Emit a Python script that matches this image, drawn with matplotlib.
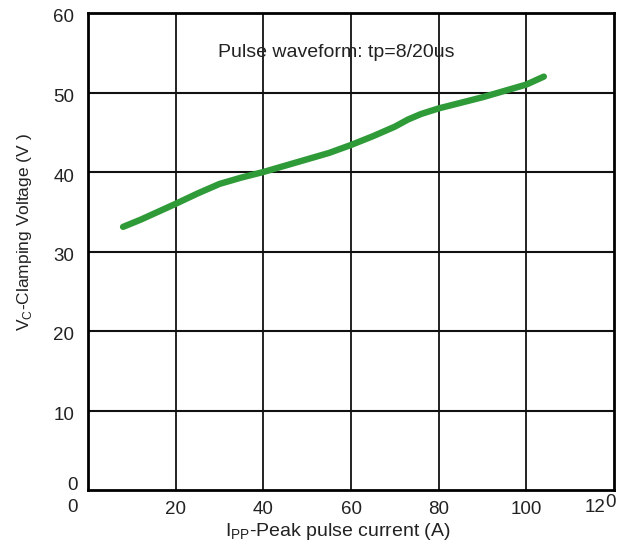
import matplotlib
matplotlib.use("Agg")
import matplotlib.pyplot as plt
from matplotlib.transforms import offset_copy, ScaledTranslation

plt.rcParams['font.family'] = ['Liberation Sans', 'DejaVu Sans']

current_a = [8, 12, 16, 20, 25, 30, 35, 40, 45, 50, 55, 60, 65, 70, 73, 76, 80, 85, 90, 95, 100, 104]
voltage_v = [33.1, 34.0, 35.0, 36.0, 37.3, 38.5, 39.3, 40.0, 40.8, 41.6, 42.4, 43.4, 44.5, 45.7,
             46.6, 47.3, 48.0, 48.7, 49.4, 50.2, 51.0, 52.0]
x_ticks = [20, 40, 60, 80, 100]
y_ticks = [10, 20, 30, 40, 50, 60]

fig = plt.figure(figsize=(6.24, 5.44), dpi=100)
ax = fig.add_axes([88/624, 1 - 490/544, (614-88)/624, (490-13)/544])
ax.set_xlim(0, 120)
ax.set_ylim(0, 60)

for xv in [20, 40, 60, 80, 100]:
    ax.axvline(xv, color='#222222', lw=1.4, zorder=1)
for yv in [10, 20, 30, 40, 50]:
    ax.axhline(yv, color='#111111', lw=1.5, zorder=1)

ax.plot(current_a, voltage_v, color='#2f9a38', lw=4.6, solid_capstyle='round',
        solid_joinstyle='round', zorder=3)

for s in ax.spines.values():
    s.set_linewidth(2.0)
    s.set_color('black')

tc = '#222222'
fs = 13.5
ax.set_xticks(x_ticks)
ax.set_xticklabels([str(v) for v in x_ticks])
ax.set_yticks(y_ticks)
ax.set_yticklabels([str(v) for v in y_ticks])
ax.tick_params(axis='both', length=0, labelsize=fs, colors=tc)
ax.tick_params(axis='x', pad=8)
ax.tick_params(axis='y', pad=10)
shift_down = ScaledTranslation(0, -3/100, fig.dpi_scale_trans)
for lab in ax.get_yticklabels():
    lab.set_transform(lab.get_transform() + shift_down)

# odd axis-end labels
ax.text(-3.6, 0, "0", transform=offset_copy(ax.transData, fig=fig, x=0, y=5, units='dots'),
        ha='center', va='center', fontsize=fs, color=tc)
ax.text(-3.6, 0, "0", transform=offset_copy(ax.transData, fig=fig, x=0, y=-9, units='dots'),
        ha='center', va='top', fontsize=fs, color=tc)
ax.text(120, 0, "12", transform=offset_copy(ax.transData, fig=fig, x=-9, y=-9, units='dots'),
        ha='right', va='top', fontsize=fs, color=tc)
ax.text(120, 0, "0", transform=offset_copy(ax.transData, fig=fig, x=-9, y=-4, units='dots'),
        ha='left', va='top', fontsize=fs, color=tc)

ax.text(56.7, 55.0, "Pulse waveform: tp=8/20us", ha='center', va='center', fontsize=14, color=tc)

ax.set_xlabel(r"I$_\mathregular{PP}$-Peak pulse current (A)", fontsize=14, color=tc, labelpad=3)
ax.xaxis.set_label_coords(0.475, -0.065)
ax.set_ylabel(r"V$_\mathregular{C}$-Clamping Voltage (V )", fontsize=12.5, color=tc)
ax.yaxis.set_label_coords(-0.103, 0.541)

fig.savefig("out.png", dpi=100)
